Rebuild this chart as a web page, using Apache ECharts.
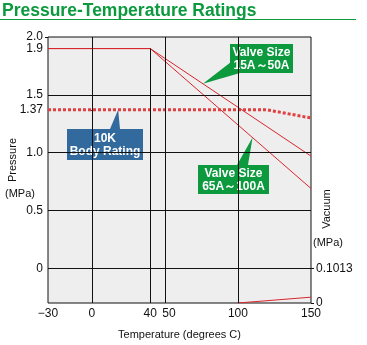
<!DOCTYPE html>
<html>
<head>
<meta charset="utf-8">
<script src="https://cdn.jsdelivr.net/npm/echarts@6/dist/echarts.min.js"></script>
<style>
html,body{margin:0;padding:0;background:#fff;}
#chart{width:367px;height:345px;}
</style>
</head>
<body>
<div id="chart"></div>
<script>
// values: temperature in deg C, pressure in MPa
const tempsSmall = [-30, 40, 150];
const pressSmall = [1.9, 1.9, 0.97];   // valve size 15A~50A
const tempsLarge = [-30, 40, 150];
const pressLarge = [1.9, 1.9, 0.69];   // valve size 65A~100A
const tempsBody = [-30, 120, 150];
const pressBody = [1.37, 1.37, 1.30];  // 10K body rating
const tempsVac = [100, 150];
const vacValues = [0, 0.017];

const xTicks = [-30, 0, 40, 50, 100, 150];
const pTicks = [2.0, 1.9, 1.5, 1.37, 1.0, 0.5, 0];
const vTicks = [0, 0.1013];
const xGridLines = [0, 50, 100];
const pGridLines = [1.5, 1.0, 0.5, 0];

const pMin = -0.3, pMax = 2.0;
// vacuum scale sits under the pressure 0 line
const vMax = 0.1013 * (pMax - pMin) / (0 - pMin);

const FONT = "'Liberation Sans', Arial, sans-serif";
const RED = '#d8262c';
const GREEN = '#0d9a3f';
const BLUE = '#336a9e';

const zip = (xs, ys) => xs.map((x, i) => [x, ys[i]]);
const interp = (xs, ys, x) => {
  for (let i = 1; i < xs.length; i++) {
    if (x <= xs[i]) {
      const t = (x - xs[i - 1]) / (xs[i] - xs[i - 1]);
      return ys[i - 1] + t * (ys[i] - ys[i - 1]);
    }
  }
  return ys[ys.length - 1];
};

const pFmt = v => v === 1.37 ? '1.37' : v === 0 ? '0' : v.toFixed(1);
// the 2.0 label is too close to 1.9 for one axis, so it sits on a twin axis
const pressureAxis = values => ({
  type: 'value', min: pMin, max: pMax, position: 'left',
  axisLine: {show: false},
  splitLine: {show: false},
  axisTick: {show: true, customValues: values, length: 3, lineStyle: {color: '#111'}},
  axisLabel: {
    customValues: values, fontSize: 12, color: '#111', margin: 5,
    showMinLabel: true, showMaxLabel: true, hideOverlap: false, formatter: pFmt
  }
});

const chart = echarts.init(document.getElementById('chart'));
chart.setOption({
  animation: false,
  textStyle: {fontFamily: FONT},
  grid: {
    left: 48, right: 56, top: 37, bottom: 39,
    show: true, backgroundColor: '#eeeeee', borderColor: '#111', borderWidth: 1
  },
  xAxis: {
    type: 'value', min: -30, max: 150,
    name: 'Temperature (degrees C)', nameLocation: 'middle', nameGap: 26,
    nameTextStyle: {fontSize: 11, color: '#111', fontFamily: FONT},
    axisLine: {show: false},
    axisTick: {show: false},
    splitLine: {show: false},
    axisLabel: {
      customValues: xTicks, fontSize: 12, color: '#111', margin: 5,
      showMinLabel: true, showMaxLabel: true, hideOverlap: false,
      formatter: v => v === 50 ? '{s|50}' : String(v).replace('-', '\u2212'),
      rich: {s: {fontSize: 12, color: '#111', padding: [0, 0, 0, 8]}}
    }
  },
  yAxis: [
    pressureAxis(pTicks.filter(v => v !== pMax)),
    {
      type: 'value', min: 0, max: vMax, position: 'right',
      axisLine: {show: false},
      splitLine: {show: false},
      axisTick: {show: true, customValues: vTicks, length: 3, lineStyle: {color: '#111'}},
      axisLabel: {
        customValues: vTicks, fontSize: 12, color: '#111', margin: 5,
        showMinLabel: true, showMaxLabel: true, hideOverlap: false,
        formatter: v => v === 0 ? '0' : String(v)
      }
    },
    pressureAxis(pTicks.filter(v => v === pMax))
  ],
  series: [{
    type: 'line', name: 'grid', data: [], z: 1, silent: true,
    markLine: {
      silent: true, symbol: 'none', animation: false,
      label: {show: false},
      lineStyle: {color: '#111', width: 1, type: 'solid'},
      data: [
        ...xGridLines.map(v => ({xAxis: v})),
        ...pGridLines.map(v => ({yAxis: v})),
        [{coord: [tempsSmall[1], pressSmall[1]]}, {coord: [tempsSmall[1], pMin]}]
      ]
    }
  }, {
    type: 'line', name: '15A~50A', data: zip(tempsSmall, pressSmall), z: 3,
    symbol: 'none', lineStyle: {color: RED, width: 1}
  }, {
    type: 'line', name: '65A~100A', data: zip(tempsLarge, pressLarge), z: 3,
    symbol: 'none', lineStyle: {color: RED, width: 1}
  }, {
    type: 'line', name: '10K', data: zip(tempsBody, pressBody), z: 3,
    symbol: 'none', lineStyle: {color: '#e0403f', width: 3, type: [3, 2]}
  }, {
    type: 'line', name: 'vacuum', yAxisIndex: 1, data: zip(tempsVac, vacValues), z: 3,
    symbol: 'none', lineStyle: {color: RED, width: 1}
  }]
});

const px = p => chart.convertToPixel({xAxisIndex: 0, yAxisIndex: 0}, p);
const tipSmall = px([76, interp(tempsSmall, pressSmall, 76)]);
const tipLarge = px([110, interp(tempsLarge, pressLarge, 110)]);
const tipBody = px([18, interp(tempsBody, pressBody, 18)]);

const callout = (x, y, w, h, color, text, pointer) => ({
  type: 'group', children: [
    {type: 'polygon', shape: {points: pointer}, style: {fill: color}},
    {type: 'rect', shape: {x, y, width: w, height: h}, style: {fill: color}},
    {type: 'text', x: x + w / 2, y: y + h / 2 + 1, style: {
      text, fill: '#fff', font: 'bold 12px ' + FONT, lineHeight: 13,
      align: 'center', verticalAlign: 'middle'
    }}
  ]
});
const label = (x, y, text, rot) => ({
  type: 'text', x, y, rotation: rot || 0, style: {
    text, fill: '#111', font: '11px ' + FONT, align: 'center', verticalAlign: 'middle'
  }
});

chart.setOption({
  graphic: [
    {type: 'text', x: 2, y: 11, style: {
      text: 'Pressure-Temperature Ratings', fill: GREEN,
      font: 'bold 17.5px ' + FONT, verticalAlign: 'middle'
    }},
    {type: 'line', shape: {x1: 0, y1: 19.5, x2: 356, y2: 19.5}, style: {stroke: GREEN, lineWidth: 1}},
    label(13, 160, 'Pressure', Math.PI / 2),
    label(20, 194, '(MPa)'),
    label(327, 209, 'Vacuum', Math.PI / 2),
    label(328, 243, '(MPa)'),
    callout(230, 44, 63, 29, GREEN, 'Valve Size\n15A\uff5e50A',
      [tipSmall, [231, 62], [240, 73]]),
    callout(198, 165, 71, 29, GREEN, 'Valve Size\n65A\uff5e100A',
      [tipLarge, [237, 165], [248, 165]]),
    callout(67, 129, 76, 31, BLUE, '10K\nBody Rating',
      [tipBody, [110, 129], [120, 129]])
  ]
});
</script>
</body>
</html>
